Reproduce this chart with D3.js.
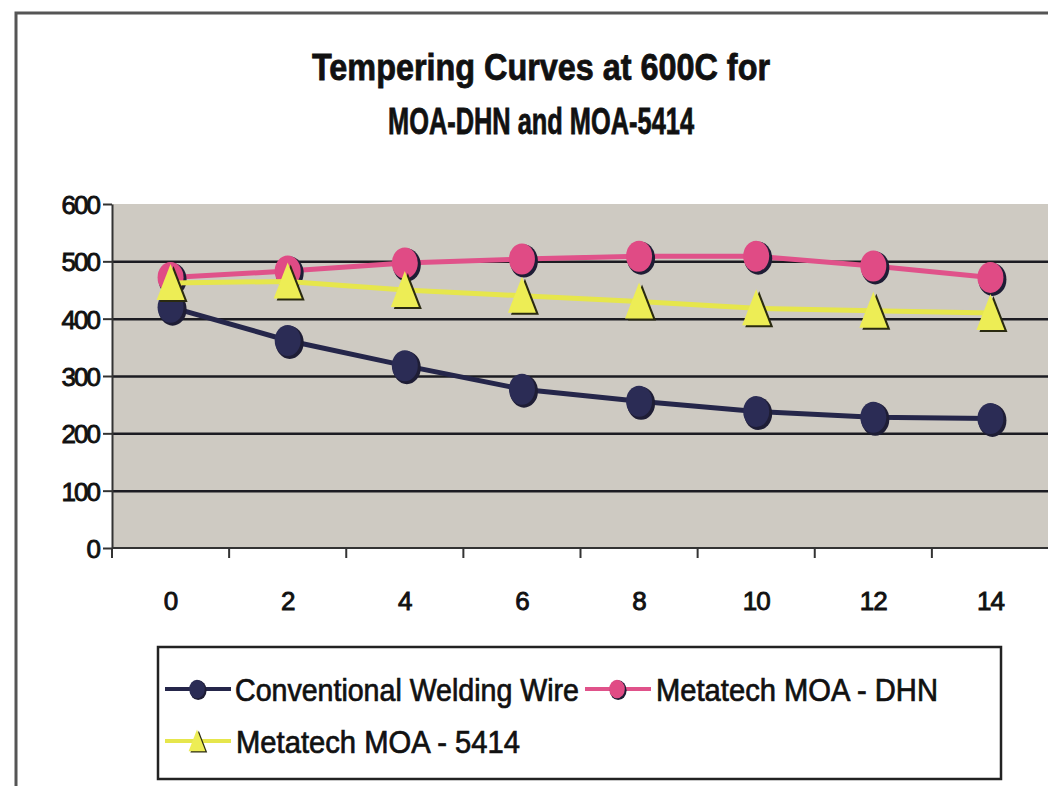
<!DOCTYPE html>
<html>
<head>
<meta charset="utf-8">
<script src="https://cdn.jsdelivr.net/npm/d3@7"></script>
<style>
  body { margin: 0; background: #fff; }
  svg { display: block; }
  text { font-family: "Liberation Sans", Arial, sans-serif; fill: #111; }
</style>
</head>
<body>
<svg id="chart" width="1048" height="786"></svg>
<script>
// hours of tempering at 600C (category axis)
const categories = ['0', '2', '4', '6', '8', '10', '12', '14']
const conventional = [420, 362, 318, 277, 256, 238, 228, 226]
const moaDHN = [472, 483, 497, 504, 509, 509, 492, 472]
const moa5414 = [462, 465, 450, 440, 430, 418, 414, 410]
const yTicks = [0, 100, 200, 300, 400, 500, 600]
const titleLines = ['Tempering Curves at 600C for', 'MOA-DHN and MOA-5414']

const series = [
  { name: 'Conventional Welding Wire', values: conventional, color: '#25264a', fill: '#2b2c55', marker: 'circle' },
  { name: 'Metatech MOA - DHN', values: moaDHN, color: '#e0528a', fill: '#e04b85', marker: 'circle' },
  { name: 'Metatech MOA - 5414', values: moa5414, color: '#e6e64c', fill: '#eded55', marker: 'triangle' }
]

const svg = d3.select('#chart')

const plot = { left: 112, right: 1049, top: 204, bottom: 548 }

const xScale = d3.scaleBand().domain(categories).range([plot.left, plot.right])
const yScale = d3.scaleLinear().domain([0, 600]).range([plot.bottom, plot.top])

// outer chart frame (only top and left edges are inside the picture)
svg.append('path')
  .attr('d', 'M16,786 L16,13 L1048,13')
  .attr('fill', 'none')
  .attr('stroke', '#555')
  .attr('stroke-width', 3)

// title
svg.selectAll('.title')
  .data(titleLines)
  .enter()
  .append('text')
  .attr('class', 'title')
  .attr('x', 541)
  .attr('y', function (d, i) { return 80 + i * 54 })
  .attr('text-anchor', 'middle')
  .attr('font-size', 37)
  .attr('font-weight', 'bold')
  .attr('stroke', '#111')
  .attr('stroke-width', 0.8)
  .attr('textLength', function (d, i) { return i === 0 ? 458 : 306 })
  .attr('lengthAdjust', 'spacingAndGlyphs')
  .text(function (d) { return d })

// plot background
svg.append('rect')
  .attr('x', plot.left)
  .attr('y', plot.top)
  .attr('width', plot.right - plot.left)
  .attr('height', plot.bottom - plot.top)
  .attr('fill', '#cecac2')

// grid lines
svg.append('g')
  .attr('id', 'gridy')
  .attr('transform', 'translate(' + plot.left + ',0)')
  .call(d3.axisLeft(yScale).tickValues(yTicks.filter(function (d) { return d > 0 && d < 600 }))
    .tickSize(-(plot.right - plot.left))
    .tickFormat(''))
  .call(function (g) { g.select('.domain').remove() })
  .selectAll('line')
  .attr('stroke', '#1c1c22')
  .attr('stroke-width', 2.5)

// y axis
const yAxis = svg.append('g')
  .attr('transform', 'translate(' + plot.left + ',0)')
  .call(d3.axisLeft(yScale).tickValues(yTicks).tickSize(9).tickPadding(4).tickSizeOuter(0))
yAxis.select('.domain').attr('stroke', '#333').attr('stroke-width', 2)
yAxis.selectAll('line').attr('stroke', '#333').attr('stroke-width', 2)
yAxis.selectAll('text')
  .attr('font-size', 26)
  .attr('fill', '#111')
  .attr('stroke', '#111')
  .attr('stroke-width', 0.9)
  .attr('letter-spacing', -2)
  .attr('dy', '0.36em')

// x axis: ticks on the category boundaries, labels in the middle
const xAxis = svg.append('g')
  .attr('transform', 'translate(0,' + plot.bottom + ')')
xAxis.append('line')
  .attr('x1', plot.left).attr('x2', plot.right)
  .attr('stroke', '#333').attr('stroke-width', 2)
xAxis.selectAll('.xtick')
  .data(categories)
  .enter()
  .append('line')
  .attr('class', 'xtick')
  .attr('x1', function (d) { return xScale(d) })
  .attr('x2', function (d) { return xScale(d) })
  .attr('y1', 0).attr('y2', 10)
  .attr('stroke', '#333').attr('stroke-width', 2)
xAxis.selectAll('.xlabel')
  .data(categories)
  .enter()
  .append('text')
  .attr('class', 'xlabel')
  .attr('x', function (d) { return xScale(d) + xScale.bandwidth() / 2 })
  .attr('y', 62)
  .attr('text-anchor', 'middle')
  .attr('font-size', 26)
  .attr('stroke', '#111')
  .attr('stroke-width', 0.9)
  .attr('letter-spacing', -1)
  .text(function (d) { return d })

// markers
function drawMarker (g, s, cx, cy, scale) {
  if (s.marker === 'circle') {
    g.append('ellipse')
      .attr('cx', cx + 2 * scale).attr('cy', cy + 2 * scale)
      .attr('rx', 14 * scale).attr('ry', 16.5 * scale)
      .attr('fill', '#1e1d35')
    g.append('ellipse')
      .attr('cx', cx).attr('cy', cy)
      .attr('rx', 13 * scale).attr('ry', 15.5 * scale)
      .attr('fill', s.fill)
  } else {
    const tri = function (dx, dy) {
      return 'M' + (cx + dx) + ',' + (cy - 19 * scale + dy) +
        ' L' + (cx + 14 * scale + dx) + ',' + (cy + 17 * scale + dy) +
        ' L' + (cx - 14 * scale + dx) + ',' + (cy + 17 * scale + dy) + 'Z'
    }
    g.append('path').attr('d', tri(3 * scale, 2 * scale)).attr('fill', '#2a2a10')
    g.append('path').attr('d', tri(0, 0)).attr('fill', s.fill)
  }
}

const xc = function (d, i) { return xScale(categories[i]) + xScale.bandwidth() / 2 }

series.forEach(function (s) {
  const g = svg.append('g').attr('class', 'series')
  const line = d3.line()
    .x(function (d, i) { return xc(d, i) })
    .y(function (d) { return yScale(d) })
  g.append('path')
    .datum(s.values)
    .attr('d', line)
    .attr('fill', 'none')
    .attr('stroke', s.color)
    .attr('stroke-width', 5)
  s.values.forEach(function (v, i) {
    drawMarker(g, s, xc(v, i), yScale(v), 1)
  })
})

// legend
const legend = svg.append('g').attr('class', 'legend')
legend.append('rect')
  .attr('x', 158).attr('y', 647)
  .attr('width', 843).attr('height', 132)
  .attr('fill', '#fff')
  .attr('stroke', '#222')
  .attr('stroke-width', 2.5)

const legendPos = [
  { x: 165, y: 689, tx: 235, tw: 344 },
  { x: 585, y: 689, tx: 656, tw: 282 },
  { x: 165, y: 741, tx: 236, tw: 284 }
]

series.forEach(function (s, i) {
  const p = legendPos[i]
  const g = legend.append('g')
  g.append('line')
    .attr('x1', p.x).attr('x2', p.x + 66)
    .attr('y1', p.y).attr('y2', p.y)
    .attr('stroke', s.color)
    .attr('stroke-width', 4)
  drawMarker(g, s, p.x + 32, p.y, 0.6)
  g.append('text')
    .attr('x', p.tx)
    .attr('y', p.y + 12)
    .attr('font-size', 31)
    .attr('stroke', '#111')
    .attr('stroke-width', 0.7)
    .attr('textLength', p.tw)
    .attr('lengthAdjust', 'spacingAndGlyphs')
    .text(s.name)
})
</script>
</body>
</html>
